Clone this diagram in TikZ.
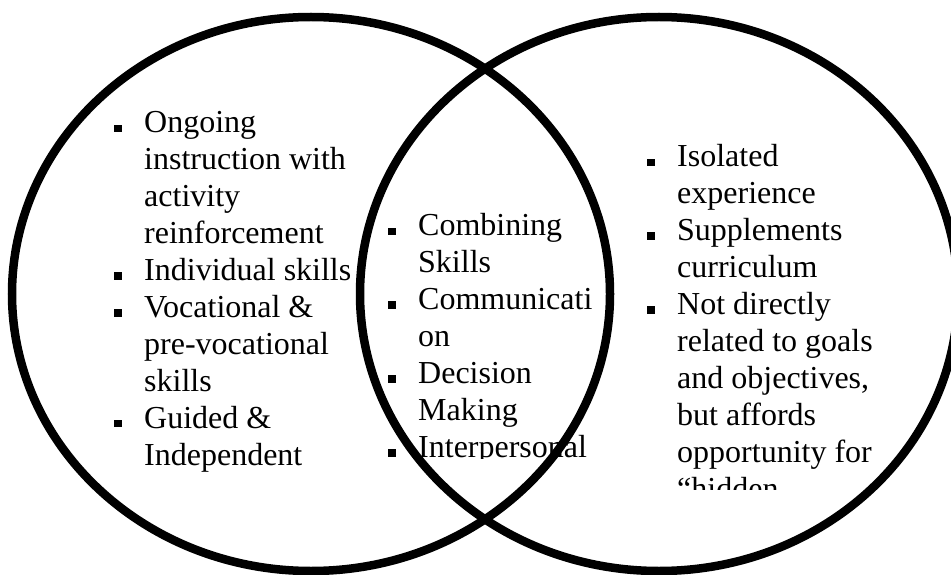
\documentclass[tikz,border=0pt]{standalone}
\usepackage{fontspec}
\setmainfont{Liberation Serif}
\newcommand\vbul{\leavevmode\llap{\rule[0.8pt]{7.5pt}{7.5pt}\hspace{22.5pt}}}
\begin{document}
\begin{tikzpicture}[x=1pt,y=-1pt,
  txt/.style={inner sep=0pt, anchor=base west, font=\fontsize{32}{36.9}\selectfont},
  ring/.style={line width=8.5pt, draw=black}]
\useasboundingbox (0,0) rectangle (951,575);
\node[txt] (lefttext) at (144,133) {\parbox[t]{270pt}{\vbul Ongoing\\
instruction with\\
activity\\
reinforcement\\
\vbul Individual skills\\
\vbul Vocational \&\\
pre-vocational\\
skills\\
\vbul Guided \&\\
Independent}};
\begin{scope}
\clip (380,190) rectangle (640,458.5);
\node[txt] (midtext) at (418,236) {\parbox[t]{220pt}{\vbul Combining\\
Skills\\
\vbul Communicati\\
on\\
\vbul Decision\\
Making\\
\vbul Interpersonal}};
\end{scope}
\begin{scope}
\clip (630,120) rectangle (940,489);
\node[txt] (righttext) at (677,167) {\parbox[t]{260pt}{\vbul Isolated\\
experience\\
\vbul Supplements\\
curriculum\\
\vbul Not directly\\
related to goals\\
and objectives,\\
but affords\\
opportunity for\\
“hidden}};
\end{scope}
\draw[ring] (311,294) ellipse [x radius=299pt, y radius=277pt];
\draw[ring] (659,294) ellipse [x radius=299pt, y radius=277pt];
\end{tikzpicture}
\end{document}
